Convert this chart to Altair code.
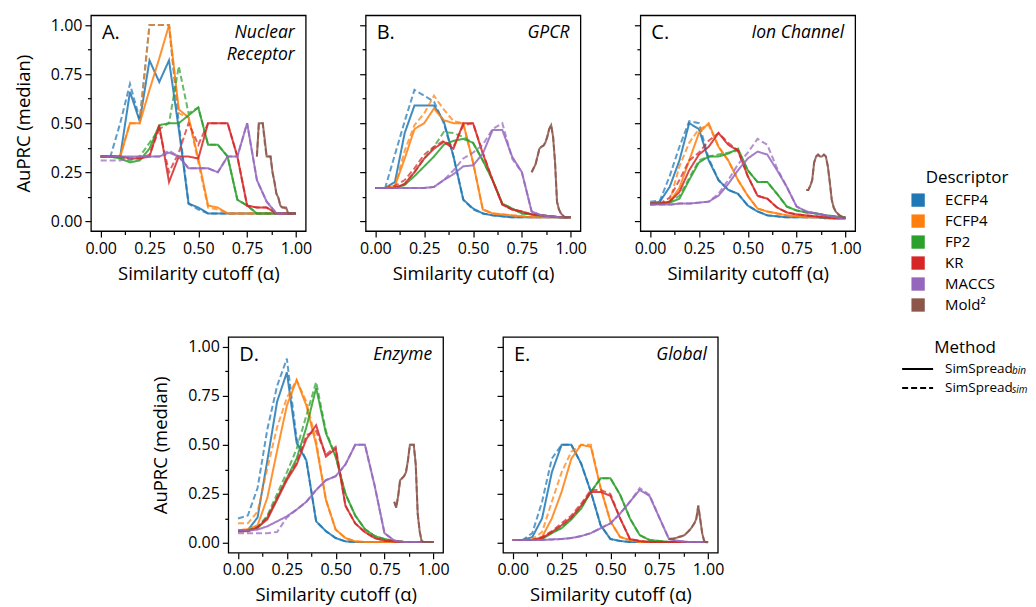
import altair as alt
import pandas as pd

# ---------------- data ----------------
CUTOFFS = [0.00, 0.05, 0.10, 0.15, 0.20, 0.25, 0.30, 0.35, 0.40, 0.45, 0.50,
           0.55, 0.60, 0.65, 0.70, 0.75, 0.80, 0.85, 0.90, 0.95, 1.00]
MOLD2_CUTOFFS = [0.80, 0.81, 0.82, 0.83, 0.84, 0.85, 0.86, 0.87, 0.88, 0.89, 0.90,
                 0.91, 0.92, 0.93, 0.94, 0.95, 0.96, 0.97, 0.98, 0.99, 1.00]
DESCRIPTORS = ["ECFP4", "FCFP4", "FP2", "KR", "MACCS", "Mold²"]
COLORS = ["#1f77b4", "#ff7f0e", "#2ca02c", "#d62728", "#9467bd", "#8c564b"]
METHODS = ["bin", "sim"]
PANEL_KEYS = ["A", "B", "C", "D", "E"]
PANEL_NAMES = [["Nuclear", "Receptor"], ["GPCR"], ["Ion Channel"], ["Enzyme"], ["Global"]]
TICK_VALUES = [0.0, 0.125, 0.25, 0.375, 0.5, 0.625, 0.75, 0.875, 1.0]

# Panel A - Nuclear Receptor
A_ECFP4_BIN = [0.33,0.33,0.33,0.66,0.51,0.82,0.71,0.82,0.47,0.09,0.07,0.04,0.04,0.04,0.04,0.04,0.04,0.04,0.04,0.04,0.04]
A_ECFP4_SIM = [0.33,0.33,0.50,0.70,0.52,1.00,1.00,1.00,0.50,0.09,0.06,0.04,0.04,0.04,0.04,0.04,0.04,0.04,0.04,0.04,0.04]
A_FCFP4_BIN = [0.33,0.33,0.33,0.50,0.50,0.67,0.83,1.00,0.57,0.53,0.32,0.08,0.07,0.04,0.04,0.04,0.04,0.04,0.04,0.04,0.04]
A_FCFP4_SIM = [0.33,0.33,0.33,0.50,0.50,1.00,1.00,1.00,0.55,0.53,0.30,0.07,0.06,0.04,0.04,0.04,0.04,0.04,0.04,0.04,0.04]
A_FP2_BIN = [0.33,0.33,0.32,0.30,0.31,0.37,0.49,0.50,0.50,0.54,0.58,0.39,0.39,0.33,0.11,0.08,0.04,0.04,0.04,0.04,0.04]
A_FP2_SIM = [0.33,0.33,0.32,0.31,0.33,0.40,0.47,0.50,0.79,0.55,0.58,0.39,0.39,0.33,0.11,0.08,0.04,0.04,0.04,0.04,0.04]
A_KR_BIN = [0.33,0.33,0.33,0.32,0.32,0.33,0.49,0.20,0.33,0.33,0.32,0.50,0.50,0.50,0.33,0.08,0.07,0.07,0.04,0.04,0.04]
A_KR_SIM = [0.33,0.33,0.33,0.32,0.32,0.34,0.47,0.25,0.35,0.50,0.39,0.50,0.50,0.50,0.33,0.08,0.07,0.07,0.04,0.04,0.04]
A_MACCS_BIN = [0.33,0.33,0.33,0.33,0.33,0.33,0.33,0.35,0.33,0.27,0.27,0.27,0.25,0.33,0.33,0.50,0.21,0.10,0.04,0.04,0.04]
A_MACCS_SIM = [0.31,0.31,0.31,0.32,0.33,0.33,0.33,0.36,0.33,0.27,0.27,0.27,0.25,0.33,0.33,0.50,0.21,0.10,0.04,0.04,0.04]
A_MOLD2_BIN = [0.33,0.50,0.50,0.50,0.42,0.33,0.33,0.33,0.25,0.20,0.14,0.12,0.08,0.07,0.07,0.07,0.04,0.04,0.04,0.04,0.04]
A_MOLD2_SIM = [0.33,0.50,0.50,0.50,0.40,0.33,0.33,0.33,0.25,0.20,0.14,0.12,0.08,0.07,0.07,0.06,0.04,0.04,0.04,0.04,0.04]

# Panel B - GPCR
B_ECFP4_BIN = [0.17,0.17,0.20,0.45,0.59,0.59,0.59,0.51,0.33,0.11,0.065,0.04,0.03,0.025,0.02,0.02,0.02,0.02,0.02,0.02,0.02]
B_ECFP4_SIM = [0.17,0.17,0.34,0.51,0.67,0.64,0.61,0.50,0.33,0.11,0.06,0.04,0.03,0.025,0.02,0.02,0.02,0.02,0.02,0.02,0.02]
B_FCFP4_BIN = [0.17,0.17,0.18,0.32,0.47,0.50,0.575,0.515,0.50,0.50,0.30,0.06,0.04,0.035,0.03,0.025,0.02,0.02,0.02,0.02,0.02]
B_FCFP4_SIM = [0.17,0.17,0.18,0.36,0.49,0.55,0.64,0.57,0.51,0.50,0.30,0.06,0.04,0.035,0.03,0.025,0.02,0.02,0.02,0.02,0.02]
B_FP2_BIN = [0.17,0.17,0.17,0.185,0.23,0.28,0.33,0.39,0.41,0.42,0.40,0.31,0.21,0.09,0.065,0.04,0.035,0.03,0.025,0.02,0.02]
B_FP2_SIM = [0.17,0.17,0.17,0.19,0.25,0.32,0.38,0.455,0.45,0.43,0.40,0.31,0.21,0.09,0.065,0.04,0.035,0.03,0.025,0.02,0.02]
B_KR_BIN = [0.17,0.17,0.17,0.19,0.25,0.32,0.37,0.405,0.37,0.50,0.50,0.345,0.21,0.085,0.06,0.05,0.035,0.03,0.025,0.02,0.02]
B_KR_SIM = [0.17,0.17,0.18,0.21,0.27,0.34,0.38,0.41,0.38,0.49,0.50,0.35,0.21,0.085,0.06,0.05,0.035,0.03,0.025,0.02,0.02]
B_MACCS_BIN = [0.17,0.17,0.17,0.17,0.17,0.17,0.175,0.21,0.24,0.28,0.285,0.345,0.465,0.465,0.33,0.25,0.05,0.03,0.025,0.02,0.02]
B_MACCS_SIM = [0.17,0.17,0.17,0.17,0.17,0.17,0.175,0.21,0.26,0.32,0.35,0.39,0.47,0.50,0.32,0.25,0.05,0.03,0.025,0.02,0.02]
B_MOLD2_BIN = [0.25,0.27,0.29,0.33,0.37,0.38,0.385,0.40,0.43,0.47,0.49,0.43,0.30,0.10,0.06,0.04,0.03,0.02,0.02,0.02,0.02]
B_MOLD2_SIM = [0.25,0.27,0.29,0.33,0.37,0.38,0.385,0.40,0.43,0.47,0.49,0.43,0.30,0.10,0.06,0.04,0.03,0.02,0.02,0.02,0.02]

# Panel C - Ion Channel
C_ECFP4_BIN = [0.09,0.10,0.175,0.31,0.50,0.47,0.31,0.21,0.16,0.14,0.08,0.05,0.03,0.025,0.02,0.02,0.02,0.02,0.015,0.015,0.015]
C_ECFP4_SIM = [0.10,0.105,0.23,0.38,0.51,0.50,0.32,0.21,0.16,0.14,0.08,0.05,0.03,0.025,0.02,0.02,0.02,0.02,0.015,0.015,0.015]
C_FCFP4_BIN = [0.085,0.09,0.10,0.17,0.31,0.45,0.50,0.38,0.31,0.21,0.13,0.065,0.05,0.04,0.03,0.025,0.02,0.02,0.02,0.015,0.015]
C_FCFP4_SIM = [0.085,0.09,0.10,0.28,0.40,0.47,0.49,0.38,0.31,0.21,0.13,0.065,0.05,0.04,0.03,0.025,0.02,0.02,0.02,0.015,0.015]
C_FP2_BIN = [0.09,0.09,0.095,0.115,0.21,0.30,0.33,0.33,0.345,0.37,0.26,0.20,0.20,0.14,0.075,0.055,0.045,0.04,0.03,0.025,0.02]
C_FP2_SIM = [0.09,0.09,0.10,0.13,0.22,0.31,0.33,0.34,0.35,0.36,0.26,0.20,0.20,0.14,0.075,0.055,0.045,0.04,0.03,0.025,0.02]
C_KR_BIN = [0.09,0.09,0.10,0.15,0.26,0.34,0.38,0.45,0.39,0.36,0.23,0.13,0.115,0.07,0.045,0.035,0.03,0.025,0.02,0.015,0.015]
C_KR_SIM = [0.09,0.09,0.12,0.21,0.31,0.35,0.41,0.45,0.40,0.36,0.23,0.13,0.115,0.07,0.045,0.035,0.03,0.025,0.02,0.015,0.015]
C_MACCS_BIN = [0.085,0.085,0.085,0.09,0.09,0.095,0.10,0.13,0.19,0.26,0.32,0.355,0.34,0.26,0.175,0.075,0.05,0.04,0.03,0.02,0.015]
C_MACCS_SIM = [0.085,0.085,0.085,0.09,0.09,0.095,0.10,0.14,0.21,0.29,0.35,0.42,0.39,0.27,0.175,0.075,0.05,0.04,0.03,0.02,0.015]
C_MOLD2_BIN = [0.16,0.16,0.18,0.21,0.30,0.33,0.34,0.33,0.33,0.34,0.33,0.28,0.20,0.11,0.07,0.05,0.04,0.03,0.025,0.02,0.02]
C_MOLD2_SIM = [0.16,0.16,0.18,0.21,0.30,0.33,0.34,0.33,0.33,0.34,0.33,0.28,0.20,0.11,0.07,0.05,0.04,0.03,0.025,0.02,0.02]

# Panel D - Enzyme
D_ECFP4_BIN = [0.065,0.065,0.13,0.42,0.72,0.87,0.51,0.42,0.11,0.06,0.025,0.008,0.005,0.005,0.005,0.005,0.005,0.005,0.005,0.005,0.005]
D_ECFP4_SIM = [0.125,0.14,0.28,0.58,0.80,0.94,0.53,0.42,0.11,0.06,0.025,0.008,0.005,0.005,0.005,0.005,0.005,0.005,0.005,0.005,0.005]
D_FCFP4_BIN = [0.065,0.07,0.09,0.23,0.47,0.70,0.83,0.70,0.50,0.22,0.068,0.025,0.008,0.005,0.005,0.005,0.005,0.005,0.005,0.005,0.005]
D_FCFP4_SIM = [0.10,0.10,0.16,0.38,0.59,0.74,0.83,0.72,0.52,0.22,0.068,0.025,0.008,0.005,0.005,0.005,0.005,0.005,0.005,0.005,0.005]
D_FP2_BIN = [0.06,0.065,0.075,0.13,0.23,0.33,0.43,0.59,0.79,0.56,0.44,0.25,0.14,0.07,0.035,0.02,0.01,0.005,0.005,0.005,0.005]
D_FP2_SIM = [0.06,0.065,0.08,0.14,0.25,0.36,0.48,0.65,0.82,0.57,0.44,0.25,0.14,0.07,0.035,0.02,0.01,0.005,0.005,0.005,0.005]
D_KR_BIN = [0.06,0.06,0.08,0.12,0.22,0.32,0.40,0.53,0.60,0.44,0.48,0.19,0.10,0.055,0.025,0.012,0.008,0.005,0.005,0.005,0.005]
D_KR_SIM = [0.06,0.06,0.08,0.13,0.23,0.33,0.41,0.55,0.57,0.45,0.49,0.19,0.10,0.055,0.025,0.012,0.008,0.005,0.005,0.005,0.005]
D_MACCS_BIN = [0.063,0.063,0.068,0.085,0.11,0.136,0.17,0.21,0.27,0.32,0.34,0.40,0.50,0.50,0.29,0.05,0.012,0.005,0.005,0.005,0.005]
D_MACCS_SIM = [0.05,0.05,0.05,0.05,0.056,0.13,0.17,0.21,0.27,0.32,0.34,0.40,0.50,0.50,0.29,0.05,0.012,0.005,0.005,0.005,0.005]
D_MOLD2_BIN = [0.21,0.18,0.24,0.32,0.33,0.34,0.36,0.42,0.50,0.50,0.50,0.40,0.15,0.06,0.01,0.005,0.005,0.005,0.005,0.005,0.005]
D_MOLD2_SIM = [0.21,0.18,0.24,0.32,0.33,0.34,0.36,0.42,0.50,0.50,0.50,0.40,0.15,0.06,0.01,0.005,0.005,0.005,0.005,0.005,0.005]

# Panel E - Global
E_ECFP4_BIN = [0.015,0.015,0.03,0.125,0.36,0.50,0.50,0.405,0.26,0.09,0.02,0.01,0.005,0.005,0.005,0.005,0.005,0.005,0.005,0.005,0.005]
E_ECFP4_SIM = [0.015,0.015,0.05,0.21,0.43,0.50,0.50,0.405,0.26,0.09,0.02,0.01,0.005,0.005,0.005,0.005,0.005,0.005,0.005,0.005,0.005]
E_FCFP4_BIN = [0.015,0.015,0.015,0.03,0.125,0.26,0.43,0.50,0.49,0.28,0.11,0.03,0.015,0.005,0.005,0.005,0.005,0.005,0.005,0.005,0.005]
E_FCFP4_SIM = [0.015,0.015,0.02,0.055,0.21,0.36,0.465,0.50,0.50,0.28,0.11,0.03,0.015,0.005,0.005,0.005,0.005,0.005,0.005,0.005,0.005]
E_FP2_BIN = [0.015,0.015,0.015,0.02,0.05,0.075,0.12,0.175,0.26,0.33,0.33,0.245,0.125,0.04,0.015,0.01,0.005,0.005,0.005,0.005,0.005]
E_FP2_SIM = [0.015,0.015,0.015,0.025,0.055,0.08,0.125,0.18,0.26,0.33,0.33,0.245,0.125,0.04,0.015,0.01,0.005,0.005,0.005,0.005,0.005]
E_KR_BIN = [0.015,0.015,0.015,0.025,0.055,0.09,0.13,0.19,0.26,0.26,0.24,0.125,0.02,0.01,0.005,0.005,0.005,0.005,0.005,0.005,0.005]
E_KR_SIM = [0.015,0.015,0.015,0.03,0.06,0.10,0.14,0.20,0.27,0.27,0.25,0.125,0.02,0.01,0.005,0.005,0.005,0.005,0.005,0.005,0.005]
E_MACCS_BIN = [0.015,0.015,0.015,0.015,0.018,0.02,0.025,0.035,0.05,0.075,0.10,0.15,0.21,0.27,0.24,0.13,0.02,0.01,0.005,0.005,0.005]
E_MACCS_SIM = [0.015,0.015,0.015,0.015,0.018,0.02,0.025,0.035,0.05,0.075,0.10,0.15,0.21,0.28,0.245,0.13,0.02,0.01,0.005,0.005,0.005]
E_MOLD2_BIN = [0.02,0.021,0.022,0.024,0.027,0.03,0.033,0.036,0.04,0.05,0.06,0.07,0.085,0.10,0.124,0.19,0.12,0.05,0.01,0.003,0.003]
E_MOLD2_SIM = [0.02,0.021,0.022,0.024,0.027,0.03,0.033,0.036,0.04,0.05,0.06,0.07,0.085,0.10,0.124,0.19,0.12,0.05,0.01,0.003,0.003]

# ---------------- assemble long table ----------------
g = globals()
rows = []
for p in PANEL_KEYS:
    for d in DESCRIPTORS:
        stem = "MOLD2" if d == "Mold²" else d
        xs = MOLD2_CUTOFFS if d == "Mold²" else CUTOFFS
        for m in METHODS:
            vals = g[f"{p}_{stem}_{m.upper()}"]
            assert len(vals) == len(xs)
            for x, v in zip(xs, vals):
                rows.append({"panel": p, "descriptor": d, "method": m,
                             "cutoff": x, "auprc": v})
df = pd.DataFrame(rows)

FONT = "Open Sans"
PW, PH = 215, 216
HALF_STEP = 137.5          # half of (panel width + 60 px gap)
MAJOR = "abs(datum.value*4 - round(datum.value*4)) < 0.001"
LABEL_EXPR = f"{MAJOR} ? format(datum.value, '.2f') : ''"
TICK_SIZE = {"condition": {"test": MAJOR, "value": 6}, "value": 3.5}
DASHES = [[1, 0], [6, 3]]
HIDDEN = alt.ViewBackground(strokeOpacity=0)


def panel(key, name_lines, show_y):
    if show_y:
        yaxis = alt.Axis(values=TICK_VALUES, labelExpr=LABEL_EXPR, tickSize=TICK_SIZE,
                         title="AuPRC (median)", titlePadding=17)
    else:
        yaxis = alt.Axis(values=TICK_VALUES, labels=False, tickSize=TICK_SIZE, title=None)
    xaxis = alt.Axis(values=TICK_VALUES, labelExpr=LABEL_EXPR, tickSize=TICK_SIZE,
                     title="Similarity cutoff (α)", titlePadding=8)
    lines = alt.Chart(df).transform_filter(alt.datum.panel == key).mark_line(
        strokeWidth=2
    ).encode(
        x=alt.X("cutoff:Q", scale=alt.Scale(domain=[-0.05, 1.05], nice=False, zero=False), axis=xaxis),
        y=alt.Y("auprc:Q", scale=alt.Scale(domain=[-0.05, 1.05], nice=False, zero=False), axis=yaxis),
        color=alt.Color("descriptor:N", scale=alt.Scale(domain=DESCRIPTORS, range=COLORS), legend=None),
        strokeDash=alt.StrokeDash("method:N", scale=alt.Scale(domain=METHODS, range=DASHES), legend=None),
        opacity=alt.Opacity("method:N", scale=alt.Scale(domain=METHODS, range=[0.85, 0.72]), legend=None),
    )
    layers = [lines]
    layers.append(alt.Chart(pd.DataFrame({"t": [key + "."]})).mark_text(
        align="left", baseline="top", fontSize=20, font=FONT, color="black"
    ).encode(text="t:N", x=alt.value(11), y=alt.value(8)))
    for j, line in enumerate(name_lines):
        layers.append(alt.Chart(pd.DataFrame({"t": [line]})).mark_text(
            align="right", baseline="top", fontSize=17.5, fontStyle="italic", font=FONT,
            color="black"
        ).encode(text="t:N", x=alt.value(PW - 11), y=alt.value(9 + 22 * j)))
    return alt.layer(*layers).properties(width=PW, height=PH)


def blank():
    return alt.Chart(pd.DataFrame({"s": [0]})).mark_point(opacity=0).encode(
        x=alt.value(0), y=alt.value(0)
    ).properties(width=1, height=1, view=HIDDEN)


pA = panel("A", PANEL_NAMES[0], True)
pB = panel("B", PANEL_NAMES[1], False)
pC = panel("C", PANEL_NAMES[2], False)
pD = panel("D", PANEL_NAMES[3], True)
pE = panel("E", PANEL_NAMES[4], False)

# ---------------- manual legend (view sits half a step right of C; marks offset) ----------------
OX = HALF_STEP
leg = []
one = lambda t: pd.DataFrame({"t": [t]})
leg.append(alt.Chart(one("Descriptor")).mark_text(
    fontSize=17, font=FONT, color="black", align="center", baseline="middle"
).encode(text="t:N", x=alt.value(OX + 52), y=alt.value(163)))
for i, (d, c) in enumerate(zip(DESCRIPTORS, COLORS)):
    yy = 185 + 21 * i
    leg.append(alt.Chart(one(d)).mark_square(size=178, opacity=1, color=c).encode(
        x=alt.value(OX + 3), y=alt.value(yy)))
    leg.append(alt.Chart(one(d)).mark_text(
        fontSize=15, font=FONT, color="black", align="left", baseline="middle"
    ).encode(text="t:N", x=alt.value(OX + 30), y=alt.value(yy)))
leg.append(alt.Chart(one("Method")).mark_text(
    fontSize=17, font=FONT, color="black", align="center", baseline="middle"
).encode(text="t:N", x=alt.value(OX + 50), y=alt.value(333)))
for i, (m, dash) in enumerate(zip(METHODS, DASHES)):
    yy = 354 + 19 * i
    leg.append(alt.Chart(one(m)).mark_rule(color="black", strokeWidth=2, strokeDash=dash).encode(
        x=alt.value(OX - 13), x2=alt.value(OX + 18), y=alt.value(yy)))
    leg.append(alt.Chart(one("SimSpread")).mark_text(
        fontSize=13.5, font=FONT, color="black", align="left", baseline="middle"
    ).encode(text="t:N", x=alt.value(OX + 30), y=alt.value(yy)))
    leg.append(alt.Chart(one(m)).mark_text(
        fontSize=10, font=FONT, fontStyle="italic", color="black", align="left", baseline="middle"
    ).encode(text="t:N", x=alt.value(OX + 97), y=alt.value(yy + 2)))
legend = alt.layer(*leg).properties(width=20, height=PH, view=HIDDEN)

# grid of half-step columns: negative column spacing makes each column advance 137.5 px
chart = alt.concat(
    pA, blank(), pB, blank(), pC, legend,
    blank(), pD, blank(), pE,
    columns=6, align="none", bounds="flush",
    spacing={"row": 106, "column": HALF_STEP - PW},
).properties(
    padding={"left": 5, "top": 4, "right": 0, "bottom": 0}
).configure_view(
    stroke="black", strokeWidth=1.3
).configure_axis(
    domain=False, grid=False, tickColor="black", tickWidth=1.2,
    labelFont=FONT, labelFontSize=16, labelColor="black", labelPadding=3,
    titleFont=FONT, titleFontSize=18.5, titleFontWeight="normal", titleColor="black"
).configure_text(font=FONT)

chart.save("out.html", embed_options={"renderer": "svg", "actions": False})
